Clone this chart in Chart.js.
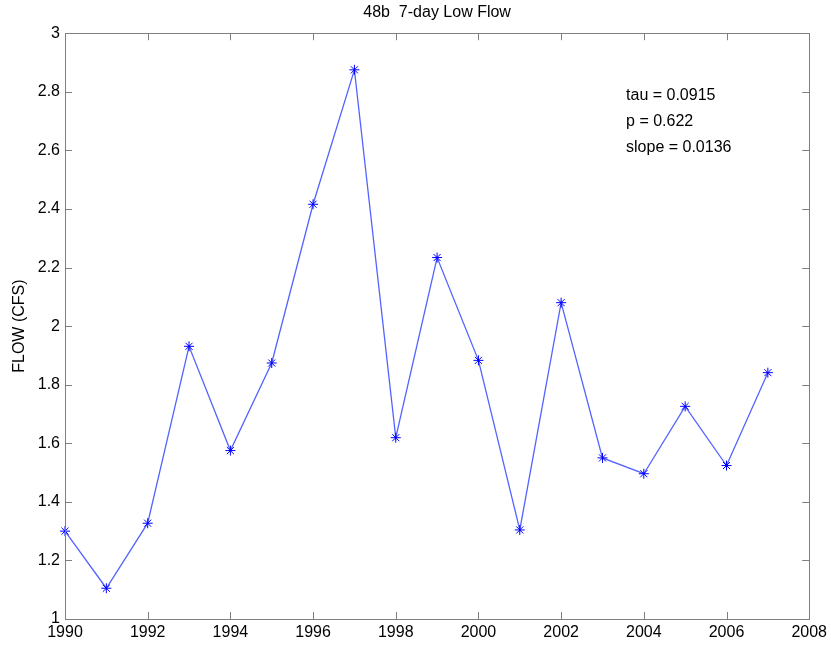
<!DOCTYPE html>
<html>
<head>
<meta charset="utf-8">
<script src="https://cdn.jsdelivr.net/npm/chart.js@4/dist/chart.umd.min.js"></script>
<style>
html,body{margin:0;padding:0;background:#fff;}
#wrap{width:831px;height:646px;position:relative;}
</style>
</head>
<body>
<div id="wrap"><canvas id="c" width="831" height="646"></canvas></div>
<script>
const years = [1990,1991,1992,1993,1994,1995,1996,1997,1998,1999,2000,2001,2002,2003,2004,2005,2006,2007];
const flow = [1.30,1.105,1.327,1.931,1.575,1.874,2.416,2.875,1.619,2.234,1.883,1.304,2.080,1.550,1.496,1.726,1.524,1.841];
const xTicks = [1990,1992,1994,1996,1998,2000,2002,2004,2006,2008];
const yTicks = [1,1.2,1.4,1.6,1.8,2,2.2,2.4,2.6,2.8,3];
const titleText = '48b  7-day Low Flow';
const yLabel = 'FLOW (CFS)';
const statsLines = ['tau = 0.0915','p = 0.622','slope = 0.0136'];

const FONT = 'Arial, "Liberation Sans", sans-serif';

const boxPlugin = {
  id: 'boxPlugin',
  afterDatasetsDraw(chart) {
    const {ctx, chartArea: a, scales} = chart;
    ctx.save();
    ctx.strokeStyle = '#7f7f7f';
    ctx.lineWidth = 1;
    ctx.strokeRect(Math.round(a.left)+0.5, Math.round(a.top)+0.5, Math.round(a.right-a.left), Math.round(a.bottom-a.top));
    const L = 7;
    ctx.beginPath();
    xTicks.forEach(v => {
      const x = Math.round(scales.x.getPixelForValue(v)) + 0.5;
      ctx.moveTo(x, a.bottom); ctx.lineTo(x, a.bottom - L);
      ctx.moveTo(x, a.top); ctx.lineTo(x, a.top + L);
    });
    yTicks.forEach(v => {
      const y = Math.round(scales.y.getPixelForValue(v)) + 0.5;
      ctx.moveTo(a.left, y); ctx.lineTo(a.left + L, y);
      ctx.moveTo(a.right, y); ctx.lineTo(a.right - L, y);
    });
    ctx.stroke();
    ctx.fillStyle = '#000';
    ctx.font = '16px ' + FONT;
    ctx.textAlign = 'left';
    ctx.textBaseline = 'middle';
    const tx = scales.x.getPixelForValue(2003.57);
    const ys = [2.786, 2.698, 2.611];
    statsLines.forEach((s, i) => ctx.fillText(s, tx, scales.y.getPixelForValue(ys[i])));
    ctx.restore();
  }
};

new Chart(document.getElementById('c'), {
  type: 'line',
  data: {
    datasets: [{
      data: years.map((y, i) => ({x: y, y: flow[i]})),
      borderColor: 'rgba(40,60,255,0.8)',
      borderWidth: 1.3,
      pointStyle: 'star',
      pointRadius: 5,
      pointBorderColor: '#0000ff',
      pointBackgroundColor: '#0000ff',
      pointBorderWidth: 1,
      tension: 0,
      clip: false
    }]
  },
  options: {
    responsive: false,
    animation: false,
    events: [],
    layout: {padding: {left: 0, right: 21, top: 0, bottom: 0}},
    plugins: {
      legend: {display: false},
      tooltip: {enabled: false},
      title: {
        display: true,
        text: titleText,
        color: '#000',
        fullSize: false,
        font: {family: FONT, size: 16, weight: 'normal'},
        padding: {top: 3, bottom: 11}
      }
    },
    scales: {
      x: {
        type: 'linear',
        min: 1990, max: 2008,
        afterBuildTicks: s => { s.ticks = xTicks.map(v => ({value: v})); },
        ticks: {color: '#000', font: {family: FONT, size: 16}, padding: 4, maxRotation: 0, autoSkip: false,
          callback: v => String(v)},
        grid: {display: false, drawTicks: false},
        border: {display: false},
        afterFit: s => { s.height = 27; }
      },
      y: {
        type: 'linear',
        min: 1, max: 3,
        afterBuildTicks: s => { s.ticks = yTicks.map(v => ({value: v})); },
        ticks: {color: '#000', font: {family: FONT, size: 16}, padding: 5, autoSkip: false,
          callback: v => String(Number(v.toFixed(1)))},
        grid: {display: false, drawTicks: false},
        border: {display: false},
        title: {display: true, text: yLabel, color: '#000', font: {family: FONT, size: 16}, padding: {top: 10, bottom: 0}},
        afterFit: s => { s.width = 65; }
      }
    }
  },
  plugins: [boxPlugin]
});
</script>
</body>
</html>
